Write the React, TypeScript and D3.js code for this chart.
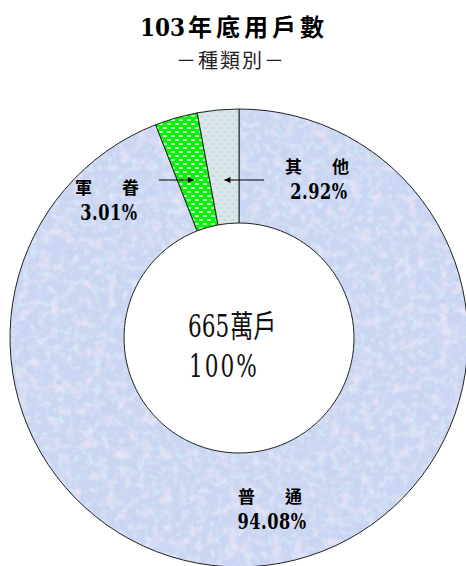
import React from 'react';
import * as d3 from 'd3';

// 103年底用戶數 — 種類別
const categories = ['普通', '軍眷', '其他'];
const shares = [94.08, 3.01, 2.92];
const shareLabels = ['94.08%', '3.01%', '2.92%'];
const labelNames = ['普　通', '軍　眷', '其　他'];
const centerNumber = '665';
const centerUnit = '萬戶';
const centerPct = '100%';
const titleNum = '103';
const titleText = '年底用戶數';
const subtitle = '－種類別－';

const W = 466;
const H = 566;
const cx = 239;
const cy = 338;
const outerR = 229;
const innerR = 115;

const serif = '"DejaVu Serif Condensed", "DejaVu Serif", "Noto Sans CJK TC", serif';
const cjk = '"Noto Sans CJK TC", serif';

// where each label sits, and whether it gets an arrow
const labelPos = [
  { x: 270, y: 503, arrow: null },
  { x: 107, y: 194, arrow: { from: 159, y: 180 } },
  { x: 317, y: 173, arrow: { from: 264, y: 180 } },
];
const fills = ['url(#noise)', 'url(#dotsGreen)', 'url(#dotsGrey)'];

export default function App() {
  const pie = d3.pie<number>().sort(null).value(d => d).startAngle(0).endAngle(2 * Math.PI);
  const arcs = pie(shares);
  const arc = d3.arc<d3.PieArcDatum<number>>().innerRadius(innerR).outerRadius(outerR);

  // point on the mid-angle ray of a slice at a given y (svg coords)
  const rayX = (a: d3.PieArcDatum<number>, y: number) => {
    const mid = (a.startAngle + a.endAngle) / 2;
    return cx + (cy - y) * Math.tan(mid);
  };

  return (
    <svg width={W} height={H} style={{ position: 'absolute', left: 0, top: 0, background: '#fff' }}>
      <defs>
        <filter id="mottle" x="0" y="0" width="100%" height="100%">
          <feTurbulence type="fractalNoise" baseFrequency="0.09" numOctaves={3} seed={4} result="n" />
          <feColorMatrix in="n" type="matrix"
            values="0 0 0 0 0.86  0 0 0 0 0.78  0 0 0 0 0.92  2.0 0 0 0 -0.95" result="pink" />
          <feComposite in="pink" in2="SourceGraphic" operator="in" result="pinkIn" />
          <feTurbulence type="fractalNoise" baseFrequency="0.14" numOctaves={2} seed={11} result="m" />
          <feColorMatrix in="m" type="matrix"
            values="0 0 0 0 0.72  0 0 0 0 0.86  0 0 0 0 0.97  2.0 0 0 0 -0.95" result="blue" />
          <feComposite in="blue" in2="SourceGraphic" operator="in" result="blueIn" />
          <feMerge>
            <feMergeNode in="SourceGraphic" />
            <feMergeNode in="blueIn" />
            <feMergeNode in="pinkIn" />
          </feMerge>
        </filter>
        <pattern id="noise" patternUnits="userSpaceOnUse" width={W} height={H}>
          <rect width={W} height={H} fill="#c9d5f2" filter="url(#mottle)" />
        </pattern>
        <pattern id="dotsGreen" patternUnits="userSpaceOnUse" width={8} height={8}>
          <rect width={8} height={8} fill="#10f010" />
          <ellipse cx={2} cy={2} rx={2.2} ry={1} fill="#d0ffd0" />
          <ellipse cx={6} cy={6} rx={2.2} ry={1} fill="#d0ffd0" />
        </pattern>
        <pattern id="dotsGrey" patternUnits="userSpaceOnUse" width={8} height={8}>
          <rect width={8} height={8} fill="#e0e4e4" />
          <ellipse cx={2} cy={2} rx={2.2} ry={1} fill="#a6e6ee" />
          <ellipse cx={6} cy={6} rx={2.2} ry={1} fill="#a6e6ee" />
        </pattern>
        <marker id="head" viewBox="0 0 10 10" refX={10} refY={5} markerWidth={8} markerHeight={6}
          orient="auto" markerUnits="userSpaceOnUse">
          <path d="M0,0 L10,5 L0,10 z" fill="#000" />
        </marker>
      </defs>

      <text x={140} y={36} fontWeight="bold" fill="#000">
        <tspan fontFamily={serif} fontSize={24} fontStretch="condensed">{titleNum}</tspan>
        <tspan dx={3} fontFamily={cjk} fontSize={24} letterSpacing={4}>{titleText}</tspan>
      </text>
      <text x={176} y={68} fontFamily={cjk} fontSize={20} letterSpacing={2} fill="#222">{subtitle}</text>

      <g transform={`translate(${cx},${cy})`}>
        {arcs.map((a, i) => (
          <path key={categories[i]} d={arc(a) || ''} fill={fills[i]} stroke="#222" strokeWidth={1} />
        ))}
      </g>

      {arcs.map((a, i) => {
        const p = labelPos[i];
        return (
          <g key={'lab' + categories[i]}>
            <text x={p.x} y={p.y} textAnchor="middle" fontFamily={cjk} fontWeight="bold" fontSize={17}
              textLength={64} lengthAdjust="spacing">{labelNames[i]}</text>
            <g transform={`translate(${p.x + 2},${p.y + 26}) scale(1,1.2)`}>
              <text x={0} y={0} textAnchor="middle" fontFamily={serif} fontStretch="condensed"
                fontWeight="bold" fontSize={18} letterSpacing={0.5}>{shareLabels[i]}</text>
            </g>
            {p.arrow && (
              <line x1={p.arrow.from} y1={p.arrow.y} x2={rayX(a, p.arrow.y)} y2={p.arrow.y}
                stroke="#000" strokeWidth={1} markerEnd="url(#head)" />
            )}
          </g>
        );
      })}

      <g transform="translate(188,337) scale(1,1.35)">
        <text x={0} y={0} fill="#111">
          <tspan fontFamily={serif} fontStretch="condensed" fontSize={24}>{centerNumber}</tspan>
          <tspan fontFamily={cjk} fontSize={23} dx={1}>{centerUnit}</tspan>
        </text>
      </g>
      <g transform="translate(189,377) scale(1,1.35)">
        <text x={0} y={0} fill="#111" fontFamily={serif} fontStretch="condensed" fontSize={24}
          letterSpacing={2}>{centerPct}</text>
      </g>
    </svg>
  );
}
